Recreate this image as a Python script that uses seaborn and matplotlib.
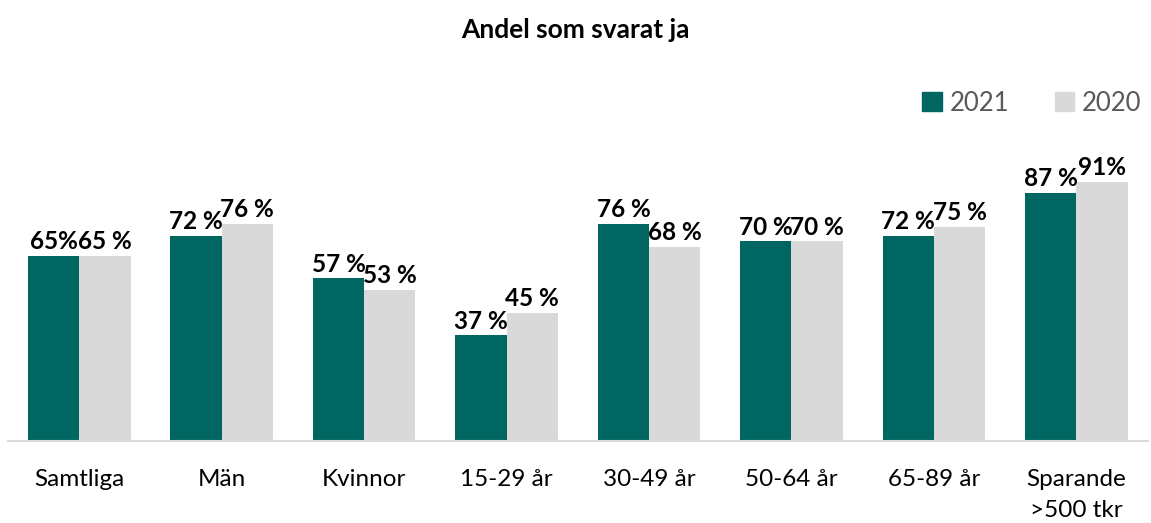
import matplotlib
matplotlib.use("Agg")
import matplotlib.pyplot as plt
import seaborn as sns
import pandas as pd

categories = ["Samtliga", "Män", "Kvinnor", "15-29 år", "30-49 år", "50-64 år", "65-89 år", "Sparande\n>500 tkr"]
values_2021 = [65, 72, 57, 37, 76, 70, 72, 87]
values_2020 = [65, 76, 53, 45, 68, 70, 75, 91]
labels_2021 = ["65%", "72 %", "57 %", "37 %", "76 %", "70 %", "72 %", "87 %"]
labels_2020 = ["65 %", "76 %", "53 %", "45 %", "68 %", "70 %", "75 %", "91%"]
series = ["2021", "2020"]
colors = ["#006661", "#D9D9D9"]

df = pd.DataFrame({
    "Kategori": categories * 2,
    "År": ["2021"] * len(categories) + ["2020"] * len(categories),
    "Andel": values_2021 + values_2020,
})

sns.set_theme(style="white")
plt.rcParams["font.family"] = ["Lato", "DejaVu Sans"]

fig = plt.figure(figsize=(11.51, 5.23), dpi=100)
ax = fig.add_axes([0.007, 0.157, 0.99, 0.545])
sns.barplot(data=df, x="Kategori", y="Andel", hue="År", hue_order=series,
            palette=colors, width=0.72, gap=0, saturation=1, ax=ax, legend=False,
            linewidth=0, edgecolor="none")

for cont, labs in zip(ax.containers, [labels_2021, labels_2020]):
    ax.bar_label(cont, labels=labs, padding=2, fontsize=17.5, fontweight="bold",
                 color="black", clip_on=False)

ax.set_ylim(0, 100)
ax.set_xlim(-0.5, len(categories) - 0.5)
ax.set_xlabel("")
ax.set_ylabel("")
ax.set_yticks([])
ax.tick_params(axis="x", length=0, pad=20, labelsize=17.5, colors="black")
for lab in ax.get_xticklabels():
    lab.set_linespacing(1.6)
for s in ["top", "left", "right"]:
    ax.spines[s].set_visible(False)
ax.spines["bottom"].set_color("#D9D9D9")
ax.spines["bottom"].set_linewidth(1.5)

handles = [plt.Rectangle((0, 0), 1, 1, color=c) for c in colors]
fig.legend(handles, series, loc="center right", bbox_to_anchor=(1.012, 0.803),
           ncol=2, frameon=False, fontsize=18.5, labelcolor="#595959",
           handlelength=0.75, handleheight=0.75, handletextpad=0.3, columnspacing=1.8)

fig.text(0.5, 0.943, "Andel som svarat ja", ha="center", va="center",
         fontsize=19, fontweight="bold", color="black")

fig.savefig("out.png", dpi=100)
